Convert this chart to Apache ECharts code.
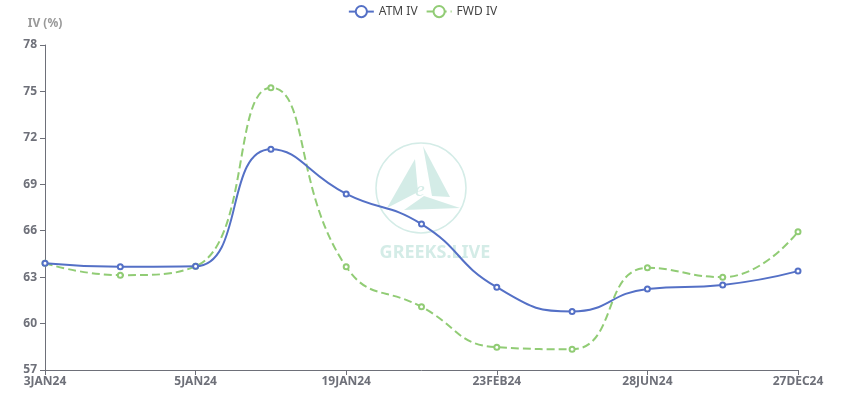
<!DOCTYPE html>
<html>
<head>
<meta charset="utf-8">
<script src="https://cdn.jsdelivr.net/npm/echarts@6/dist/echarts.min.js"></script>
<style>html,body{margin:0;padding:0;background:#fff;}#main{width:845px;height:398px;}</style>
</head>
<body>
<div id="main"></div>
<script>
var categories = ['3JAN24','4JAN24','5JAN24','12JAN24','19JAN24','26JAN24','23FEB24','29MAR24','28JUN24','27SEP24','27DEC24'];
var atmIV = [63.9, 63.67, 63.7, 71.26, 68.38, 66.43, 62.35, 60.78, 62.24, 62.5, 63.39];
var fwdIV = [63.9, 63.13, 63.7, 75.24, 63.67, 61.08, 58.47, 58.34, 63.6, 63.0, 65.94];
var yTicks = {min: 57, max: 78, interval: 3};

var chart = echarts.init(document.getElementById('main'));
var wm = '#d4ece7';
chart.setOption({
  animation: false,
  textStyle: {fontFamily: 'Noto Sans, sans-serif'},
  legend: {
    top: 0, left: 'center',
    itemWidth: 25, itemHeight: 14,
    textStyle: {color: '#444', fontSize: 12},
    data: ['ATM IV', 'FWD IV']
  },
  grid: {left: 45, right: 47, top: 45, bottom: 28},
  graphic: [
    {type: 'circle', shape: {cx: 421, cy: 188, r: 45}, style: {fill: 'none', stroke: wm, lineWidth: 1.5}, z: 0},
    {type: 'polygon', shape: {points: [[415,159],[387,208],[418,192]]}, style: {fill: wm}, z: 0},
    {type: 'polygon', shape: {points: [[423,146],[450,197],[432,196]]}, style: {fill: wm}, z: 0},
    {type: 'polygon', shape: {points: [[404,210],[460,208],[424,196]]}, style: {fill: wm}, z: 0},
    {type: 'text', style: {text: 'e', x: 420, y: 190, fill: wm, font: 'italic 22px serif', textAlign: 'center', textVerticalAlign: 'middle'}, z: 0},
    {type: 'text', style: {text: 'GREEKS.LIVE', x: 435, y: 253, fill: wm, font: 'bold 18px "Noto Sans", sans-serif', textAlign: 'center', textVerticalAlign: 'middle'}, z: 0}
  ],
  xAxis: {
    type: 'category',
    data: categories,
    boundaryGap: false,
    axisLine: {lineStyle: {color: '#6e7079'}},
    axisTick: {interval: 1, alignWithLabel: true},
    axisLabel: {interval: 1, color: '#6e7079', fontWeight: 'bold', fontSize: 12, margin: 6}
  },
  yAxis: {
    type: 'value',
    name: 'IV (%)',
    nameTextStyle: {color: '#999', fontWeight: 'bold', fontSize: 12, align: 'center'},
    nameGap: 15,
    min: yTicks.min, max: yTicks.max, interval: yTicks.interval,
    axisLine: {show: true, lineStyle: {color: '#6e7079'}},
    axisTick: {show: true},
    splitLine: {show: false},
    axisLabel: {color: '#6e7079', fontWeight: 'bold', fontSize: 12}
  },
  series: [
    {name: 'ATM IV', type: 'line', smooth: true, data: atmIV, symbol: 'emptyCircle', symbolSize: 5,
      itemStyle: {color: '#5470c6'}, lineStyle: {width: 2, color: '#5470c6'}, z: 3},
    {name: 'FWD IV', type: 'line', smooth: true, data: fwdIV, symbol: 'emptyCircle', symbolSize: 5,
      itemStyle: {color: '#91cc75'}, lineStyle: {width: 2, type: 'dashed', color: '#91cc75'}, z: 2}
  ]
});
</script>
</body>
</html>
